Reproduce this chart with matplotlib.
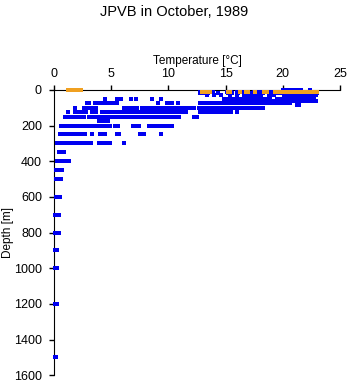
import matplotlib
matplotlib.use('Agg')
import matplotlib.pyplot as plt

plt.rcParams['font.family'] = ['Liberation Sans', 'DejaVu Sans']

# station depths [m] and temperatures [degC]
b0 = [20.0, 20.2, 20.4, 20.6, 20.8, 21.0, 21.2, 21.4, 21.6, 22.4]
b10 = [12.8, 13.0, 13.3, 13.6, 13.9, 15.1, 15.3, 15.5, 16.0, 16.3, 16.5, 17.5, 17.8, 18.0,
       19.0, 19.2, 19.4, 19.6, 19.8, 20.0, 20.2, 20.4, 20.6, 20.8, 21.0, 21.2, 21.4, 21.6,
       21.8, 22.0, 22.2, 22.4, 22.6, 22.8, 23.0]
b20 = [12.8, 13.0, 13.2, 13.5, 14.3, 15.2, 15.4, 15.6, 16.1, 17.2, 17.8, 18.3, 18.8, 19.0,
       19.2, 19.4, 19.6, 19.8, 20.0, 20.2, 20.4, 20.6, 20.8, 21.0, 21.2, 21.4, 21.6, 21.8,
       22.0, 22.2, 22.4, 22.6, 22.8, 23.0]
b30 = [13.4, 14.0, 14.6, 15.4, 16.0, 16.6, 16.9, 17.1, 17.5, 17.8, 18.1, 18.8, 19.0, 19.2,
       20.1, 20.3, 20.5, 20.7, 20.9, 21.1, 21.3, 21.5, 21.7, 21.9, 22.1, 22.3, 22.5, 22.7, 22.9]
b50 = [4.5, 5.5, 5.7, 5.9, 6.7, 7.2, 8.6, 9.4,
       14.9, 15.1, 15.3, 15.5, 15.7, 15.9, 16.1, 16.3, 16.5, 16.7, 16.9, 17.1, 17.3, 17.5,
       17.7, 17.9, 18.1, 18.3, 18.5, 18.7, 18.9, 19.5, 19.7, 19.9, 20.1, 20.3, 20.5, 20.7,
       20.9, 21.1, 21.3, 21.5, 21.7, 21.9, 22.1, 22.3, 22.5, 22.7]
b65 = [19.1, 19.3, 19.5, 19.7, 19.9, 20.1, 20.3, 20.5, 20.7, 20.9, 21.1, 21.3, 21.5, 21.7,
       21.9, 22.1, 22.3, 22.5, 22.7, 22.9]
b75 = [2.9, 3.1, 3.6, 3.8, 4.0, 4.3, 4.5, 4.7, 5.1, 5.3, 5.5, 9.1, 9.9, 10.1, 10.3, 10.8,
       12.8, 13.0, 13.2, 13.4, 13.6, 13.8, 14.0, 14.2, 14.4, 14.6, 14.8, 15.0, 15.2, 15.4,
       15.6, 15.8, 16.0, 16.2, 16.4, 16.6, 16.8, 17.0, 17.2, 17.4, 17.6, 17.8, 18.0, 18.2,
       18.4, 18.6, 18.8, 19.0, 19.2, 19.4, 19.6, 19.8, 20.0, 20.2, 20.4, 20.6]
b85 = [21.2, 21.4]
b100 = [1.8, 2.6, 2.8, 3.0, 3.3, 3.7, 6.1, 6.3, 6.5, 6.7, 6.9, 7.1, 7.3, 7.7, 7.9, 8.1, 8.3,
        8.5, 8.7, 8.9, 9.1, 9.3, 9.5, 9.7, 9.9, 10.1, 10.3, 10.5, 10.7, 10.9, 11.2, 11.4,
        11.6, 11.8, 12.0, 12.2, 12.7, 12.9, 13.1, 13.4, 13.6, 13.8, 14.0, 14.2, 14.4, 14.6,
        14.8, 15.0, 15.2, 15.4, 15.7, 15.9, 16.1, 16.3, 16.5, 16.7, 16.9, 17.1, 17.3, 17.5,
        17.7, 17.9, 18.1, 18.3]
b125 = [1.2, 1.8, 2.0, 2.3, 2.5, 2.8, 3.3, 3.5, 3.7, 4.2, 4.4, 4.6, 4.8, 5.0, 5.2, 5.4, 5.6,
        5.8, 6.1, 6.3, 6.5, 6.7, 6.9, 7.1, 7.3, 7.5, 7.8, 8.0, 8.2, 8.4, 8.6, 8.8, 9.0, 9.2,
        9.4, 9.6, 9.9, 10.1, 10.3, 10.5, 10.7, 10.9, 11.1, 11.3, 11.5, 12.8, 13.0, 13.2,
        13.4, 13.6, 13.8, 14.0, 14.3, 14.5, 14.7, 15.0, 15.2, 15.5, 16.0]
b150 = [1.0, 1.2, 1.4, 1.6, 1.8, 2.0, 2.2, 2.4, 2.6, 3.1, 3.3, 3.5, 3.7, 4.0, 4.2, 4.4, 4.6,
        4.8, 5.0, 5.2, 5.4, 5.6, 5.8, 6.0, 6.2, 6.4, 6.7, 7.1, 7.3, 7.5, 7.7, 7.9, 8.1, 8.3,
        8.5, 8.7, 8.9, 9.1, 9.3, 9.5, 9.7, 9.9, 10.1, 10.3, 10.5, 10.7, 10.9, 12.2, 12.5]
b175 = [3.9, 4.1, 4.3, 4.5, 4.7]
b200 = [0.6, 0.8, 1.0, 1.2, 1.4, 1.6, 1.8, 2.0, 2.2, 2.4, 2.6, 2.8, 3.0, 3.2, 3.4, 3.6, 3.8,
        4.0, 4.2, 4.4, 4.6, 4.9, 5.35, 5.6, 6.95, 7.25, 7.4, 8.3, 8.5, 8.7, 8.95, 9.3, 9.5,
        9.7, 9.9, 10.1, 10.3]
b250 = [0.5, 0.7, 0.9, 1.1, 1.3, 1.5, 1.7, 1.9, 2.1, 2.3, 2.5, 2.7, 3.3, 4.0, 4.2, 4.5, 5.5,
        5.7, 7.5, 7.7, 7.9, 9.4]
b300 = [0.3, 0.5, 0.7, 0.9, 1.1, 1.3, 1.5, 1.7, 1.9, 2.1, 2.4, 2.7, 2.9, 3.2, 3.9, 4.2, 4.4,
        4.6, 4.9, 6.1]
b350 = [0.4, 0.6, 0.9]
b400 = [0.3, 0.5, 0.7, 0.9, 1.1, 1.35]
b450 = [0.15, 0.4, 0.7]
b500 = [0.2, 0.4, 0.65]
b600 = [0.2, 0.35, 0.5]
b700 = [0.1, 0.3, 0.45]
b800 = [0.1, 0.3, 0.45]
b900 = [0.1, 0.3]
b1000 = [0.1, 0.3]
b1200 = [0.1, 0.3]
b1500 = [0.1, 0.2]

# surface (bucket) temperatures
o0 = [1.2, 1.4, 1.6, 1.8, 2.0, 2.2, 2.4]
o10 = [12.9, 13.1, 13.3, 13.6, 15.2, 15.4, 16.3, 16.8, 17.0, 17.6, 18.4, 18.6, 19.3, 19.5,
       19.7, 19.9, 20.1, 20.3, 20.5, 20.7, 20.9, 21.1, 21.3, 21.5, 21.7, 21.9, 22.1, 22.3,
       22.5, 22.7, 22.9, 23.0]

blue_rows = [(0, b0), (10, b10), (20, b20), (30, b30), (50, b50), (65, b65), (75, b75),
             (85, b85), (100, b100), (125, b125), (150, b150), (175, b175), (200, b200),
             (250, b250), (300, b300), (350, b350), (400, b400), (450, b450), (500, b500),
             (600, b600), (700, b700), (800, b800), (900, b900), (1000, b1000),
             (1200, b1200), (1500, b1500)]
orange_rows = [(2, o0), (10, o10)]

yticks = [0, 200, 400, 600, 800, 1000, 1200, 1400, 1600]
xticks = [0, 5, 10, 15, 20, 25]

fig = plt.figure(figsize=(3.48, 3.84), dpi=100)
ax = fig.add_axes([0.155, 0.023, 0.822, 0.743])

for d, temps in blue_rows:
    ax.scatter(temps, [d] * len(temps), marker='s', s=4.9, color='#0000f0',
               linewidths=0, antialiased=False, clip_on=False, zorder=3)
for d, temps in orange_rows:
    ax.scatter(temps, [d] * len(temps), marker='s', s=4.9, color='#f0a020',
               linewidths=0, antialiased=False, clip_on=False, zorder=4)

ax.set_xlim(0, 25)
ax.set_ylim(1600, 0)
ax.set_xticks(xticks)
ax.set_yticks(yticks)
ax.xaxis.tick_top()
ax.xaxis.set_label_position('top')
ax.spines['right'].set_visible(False)
ax.spines['bottom'].set_visible(False)
ax.tick_params(direction='out', length=3.6, width=1, labelsize=9)
ax.tick_params(axis='y', pad=5)
ax.tick_params(axis='x', pad=3.5)
ax.set_xlabel('Temperature [°C]', fontsize=8.5, labelpad=3)
fig.text(8 / 348, 0.395, 'Depth [m]', rotation=90, ha='center', va='center', fontsize=8.5)
fig.text(0.5, 0.968, 'JPVB in October, 1989', ha='center', va='center', fontsize=10.5)

fig.savefig('out.png', dpi=100)
